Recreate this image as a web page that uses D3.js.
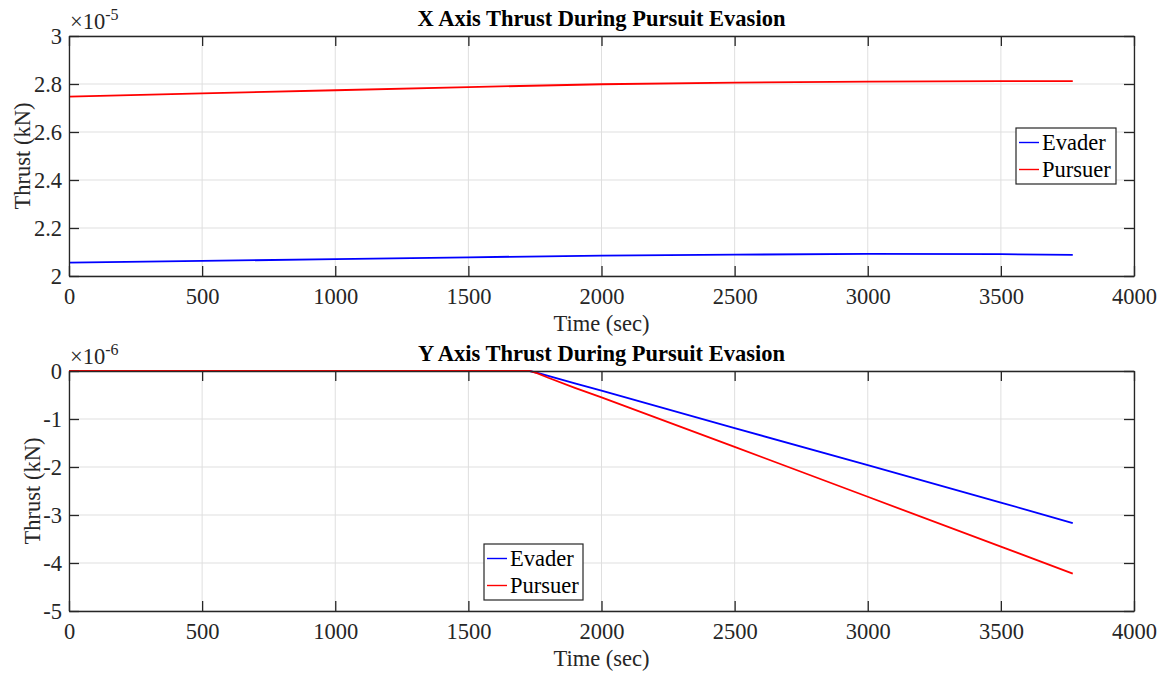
<!DOCTYPE html>
<html>
<head>
<meta charset="utf-8">
<script src="https://cdn.jsdelivr.net/npm/d3@7"></script>
<style>
  html, body { margin: 0; padding: 0; background: #fff; }
  svg { display: block; font-family: "Liberation Serif", "Times New Roman", serif; }
</style>
</head>
<body>
<svg id="chart" width="1161" height="677"></svg>
<script>
// ---- data (thrust mantissas; multiply by 10^exponent for kN) ----
const timeX = [0, 500, 1000, 1500, 2000, 2500, 3000, 3500, 3770];
const evaderX = [2.056, 2.063, 2.070, 2.078, 2.085, 2.089, 2.092, 2.091, 2.088];
const pursuerX = [2.747, 2.761, 2.774, 2.787, 2.799, 2.806, 2.810, 2.812, 2.812];
const exponentX = -5;

const timeY = [0, 500, 1000, 1500, 1700, 1730, 1760, 1800, 1900, 2000, 2500, 3000, 3500, 3770];
const evaderY = [0, 0, 0, 0, 0, 0, -0.04, -0.10, -0.26, -0.41, -1.19, -1.96, -2.74, -3.17];
const pursuerY = [0, 0, 0, 0, 0, 0, -0.05, -0.14, -0.35, -0.55, -1.58, -2.62, -3.66, -4.22];
const exponentY = -6;

const xTicks = [0, 500, 1000, 1500, 2000, 2500, 3000, 3500, 4000];
const yTicksTop = [2, 2.2, 2.4, 2.6, 2.8, 3];
const yTicksBottom = [-5, -4, -3, -2, -1, 0];
const seriesNames = ["Evader", "Pursuer"];
const seriesColors = ["#0000ff", "#ff0000"];

const svg = d3.select("#chart");
const axisColor = "#262626";
const gridColor = "#dfdfdf";
const fontSize = "22.5px";

function panel(opts) {
  const { left, right, top, bottom, yDomain, yTicks, times, series, title, exponent, legend } = opts;
  const x = d3.scaleLinear().domain([0, 4000]).range([left, right]);
  const y = d3.scaleLinear().domain(yDomain).range([bottom, top]);
  const g = svg.append("g");

  // grid
  g.append("g").selectAll("line").data(xTicks).join("line")
    .attr("x1", d => x(d)).attr("x2", d => x(d))
    .attr("y1", top).attr("y2", bottom)
    .attr("stroke", gridColor).attr("stroke-width", 1);
  g.append("g").selectAll("line").data(yTicks).join("line")
    .attr("x1", left).attr("x2", right)
    .attr("y1", d => y(d)).attr("y2", d => y(d))
    .attr("stroke", gridColor).attr("stroke-width", 1);

  // data lines
  const line = d3.line().x((d, i) => x(times[i])).y(d => y(d));
  series.forEach((vals, k) => {
    g.append("path").datum(vals)
      .attr("d", line)
      .attr("fill", "none")
      .attr("stroke", seriesColors[k])
      .attr("stroke-width", 1.8);
  });

  // axes with inward ticks on all sides
  const tickLen = 10;
  const fmt = d => String(d);
  const bottomAxis = d3.axisBottom(x).tickValues(xTicks).tickSizeInner(-tickLen).tickSizeOuter(0).tickPadding(12).tickFormat(fmt);
  const topAxis = d3.axisTop(x).tickValues(xTicks).tickSizeInner(-tickLen).tickSizeOuter(0).tickFormat("");
  const leftAxis = d3.axisLeft(y).tickValues(yTicks).tickSizeInner(-tickLen).tickSizeOuter(0).tickPadding(7).tickFormat(fmt);
  const rightAxis = d3.axisRight(y).tickValues(yTicks).tickSizeInner(-tickLen).tickSizeOuter(0).tickFormat("");

  const axes = [
    g.append("g").attr("transform", `translate(0,${bottom})`).call(bottomAxis),
    g.append("g").attr("transform", `translate(0,${top})`).call(topAxis),
    g.append("g").attr("transform", `translate(${left},0)`).call(leftAxis),
    g.append("g").attr("transform", `translate(${right},0)`).call(rightAxis)
  ];
  axes.forEach(a => {
    a.select(".domain").attr("stroke", axisColor).attr("stroke-width", 1.3);
    a.selectAll(".tick line").attr("stroke", axisColor).attr("stroke-width", 1.3);
    a.selectAll(".tick text").attr("fill", axisColor)
      .style("font-family", "'Liberation Serif', serif").style("font-size", fontSize);
  });

  // exponent label
  const ex = g.append("text").attr("x", left + 1).attr("y", top - 7)
    .attr("fill", axisColor).style("font-size", fontSize);
  ex.append("tspan").text("\u00d710");
  ex.append("tspan").attr("dy", -9).style("font-size", "16px").text(String(exponent));

  // title
  g.append("text").attr("x", (left + right) / 2).attr("y", top - 10)
    .attr("text-anchor", "middle").attr("font-weight", "bold")
    .style("font-size", "22.5px").attr("fill", "#000").text(title);

  // axis labels
  g.append("text").attr("x", (left + right) / 2).attr("y", bottom + 55)
    .attr("text-anchor", "middle").attr("fill", axisColor)
    .style("font-size", fontSize).text("Time (sec)");
  g.append("text")
    .attr("transform", `translate(${opts.ylabelX},${(top + bottom) / 2}) rotate(-90)`)
    .attr("text-anchor", "middle").attr("fill", axisColor)
    .style("font-size", fontSize).text("Thrust (kN)");

  // legend
  const lg = g.append("g").attr("transform", `translate(${legend.x},${legend.y})`);
  lg.append("rect").attr("width", legend.w).attr("height", legend.h)
    .attr("fill", "#fff").attr("stroke", axisColor).attr("stroke-width", 1.2);
  seriesNames.forEach((name, k) => {
    const cy = 14.5 + k * 27;
    lg.append("line").attr("x1", 3).attr("x2", 23).attr("y1", cy).attr("y2", cy)
      .attr("stroke", seriesColors[k]).attr("stroke-width", 1.4);
    lg.append("text").attr("x", 26).attr("y", cy + 7.5)
      .attr("fill", "#000").style("font-size", fontSize).text(name);
  });
}

panel({
  left: 69, right: 1134, top: 36, bottom: 276,
  yDomain: [2, 3], yTicks: yTicksTop,
  times: timeX, series: [evaderX, pursuerX],
  title: "X Axis Thrust During Pursuit Evasion",
  exponent: exponentX, ylabelX: 30,
  legend: { x: 1016, y: 128, w: 100, h: 56 }
});

panel({
  left: 69, right: 1134, top: 371, bottom: 611,
  yDomain: [-5, 0], yTicks: yTicksBottom,
  times: timeY, series: [evaderY, pursuerY],
  title: "Y Axis Thrust During Pursuit Evasion",
  exponent: exponentY, ylabelX: 40,
  legend: { x: 484, y: 544, w: 99, h: 56 }
});
</script>
</body>
</html>
